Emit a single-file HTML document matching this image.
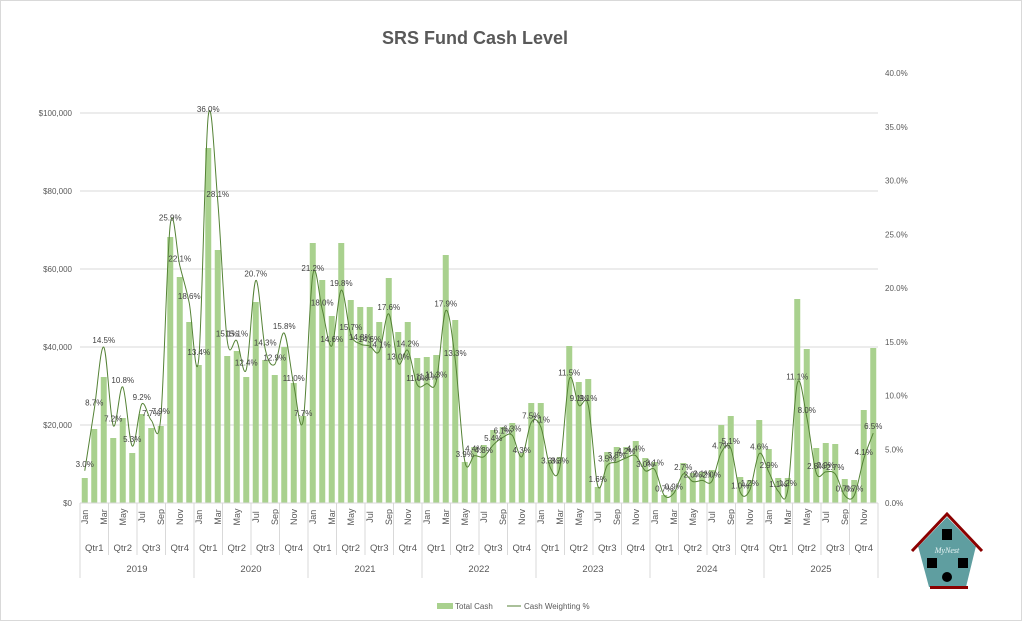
<!DOCTYPE html>
<html><head><meta charset="utf-8"><style>
html,body{margin:0;padding:0;background:#fff;}
svg{display:block;font-family:"Liberation Sans",sans-serif;}
</style></head><body>
<svg id="c" width="1022" height="621" viewBox="0 0 1022 621" xmlns="http://www.w3.org/2000/svg">
<rect x="0.5" y="0.5" width="1021" height="620" fill="#fff" stroke="#d9d9d9"/>
<text x="475" y="44" text-anchor="middle" font-size="18" font-weight="bold" fill="#595959">SRS Fund Cash Level</text>
<g id="grid" stroke="#d9d9d9" stroke-width="1"></g>
<g id="bars" fill="#a9d18e"></g>
<path id="line" fill="none" stroke="#548235" stroke-width="1"/>
<g id="labels" font-size="8" fill="#404040" text-anchor="middle"></g>
<g id="axis" font-size="8" fill="#595959"></g>
<g id="xaxis" fill="#595959"></g>
<g font-size="8" fill="#595959">
<rect x="437" y="603" width="16" height="6" fill="#a9d18e"/>
<text x="455" y="609">Total Cash</text>
<line x1="507" y1="606" x2="521" y2="606" stroke="#548235"/>
<text x="524" y="609">Cash Weighting %</text>
</g>
<g>
<polygon points="918,546 976,546 966,587 929,587" fill="#5f9ea0"/>
<polyline points="912,551 947,514 982,551" fill="none" stroke="#8b0000" stroke-width="3"/>
<polygon points="947,517 918,547 976,547" fill="#5f9ea0"/>
<rect x="930" y="586" width="38" height="3" fill="#8b0000"/>
<rect x="942" y="529" width="10" height="11" fill="#000"/>
<rect x="927" y="558" width="10" height="10" fill="#000"/>
<rect x="958" y="558" width="10" height="10" fill="#000"/>
<circle cx="947" cy="577" r="5" fill="#000"/>
<text x="947" y="553" font-size="8" font-style="italic" fill="#e8f4f4" text-anchor="middle" font-family="Liberation Serif,serif">MyNest</text>
</g>
</svg>
<script>
var tops=[478,429,377,438,418,453,414,428,426,237,277,322,
365,148,250,356,351,377,302,360,375,347,383,416,
243,280,316,243,300,307,307,322,278,332,322,358,
357,355,255,320,462,447,445,430,427,423,453,403,
403,460,457,346,382,379,487,452,447,447,441,458,
462,495,490,463,473,472,470,425,416,477,480,420,
449,478,478,299,349,448,443,444,479,480,410,348];
var p=[3.0,8.7,14.5,7.2,10.8,5.3,9.2,7.7,7.9,25.9,22.1,18.6,
13.4,36.0,28.1,15.1,15.1,12.4,20.7,14.3,12.9,15.8,11.0,7.7,
21.2,18.0,14.6,19.8,15.7,14.8,14.6,14.1,17.6,13.0,14.2,11.0,
11.1,11.3,17.9,13.3,3.9,4.4,4.3,5.4,6.1,6.3,4.3,7.5,
7.1,3.3,3.3,11.5,9.1,9.1,1.6,3.5,3.8,4.2,4.4,3.0,
3.1,0.7,0.9,2.7,2.0,2.1,2.0,4.7,5.1,1.0,1.2,4.6,
2.9,1.1,1.2,11.1,8.0,2.8,2.9,2.7,0.7,0.7,4.1,6.5];
var L=["3.0%","8.7%","14.5%","7.2%","10.8%","5.3%","9.2%","7.7%","7.9%","25.9%","22.1%","18.6%",
"13.4%","36.0%","28.1%","15.1%","15.1%","12.4%","20.7%","14.3%","12.9%","15.8%","11.0%","7.7%",
"21.2%","18.0%","14.6%","19.8%","15.7%","14.8%","14.6%","14.1%","17.6%","13.0%","14.2%","11.0%",
"11.1%","11.3%","17.9%","13.3%","3.9%","4.4%","4.3%","5.4%","6.1%","6.3%","4.3%","7.5%",
"7.1%","3.3%","3.3%","11.5%","9.1%","9.1%","1.6%","3.5%","3.8%","4.2%","4.4%","3.0%",
"3.1%","0.7%","0.9%","2.7%","2.0%","2.1%","2.0%","4.7%","5.1%","1.0%","1.2%","4.6%",
"2.9%","1.1%","1.2%","11.1%","8.0%","2.8%","2.9%","2.7%","0.7%","0.7%","4.1%","6.5%"];
var NS="http://www.w3.org/2000/svg";
function el(t,a,par,txt){var e=document.createElementNS(NS,t);for(var k in a)e.setAttribute(k,a[k]);if(txt!=null)e.textContent=txt;document.getElementById(par).appendChild(e);return e;}
var x0=80,w=9.5,y0=503;
var money=["$0","$20,000","$40,000","$60,000","$80,000","$100,000"];
for(var i=0;i<=5;i++){var y=y0-78*i;if(i>0)el("line",{x1:x0,x2:878,y1:y,y2:y},"grid");
el("text",{x:72,y:y+3,"text-anchor":"end"},"axis",money[i]);}
for(var i=0;i<=8;i++){var y=y0-53.75*i;el("text",{x:885,y:y+3},"axis",(5*i).toFixed(1)+"%");}
var pts=[];
for(var i=0;i<84;i++){var cx=x0+w*(i+0.5);
el("rect",{x:cx-3,y:tops[i],width:6,height:y0-tops[i]},"bars");
pts.push([cx,y0-p[i]*10.75]);}
var d="M"+pts[0][0]+","+pts[0][1];
for(var i=0;i<83;i++){var a=pts[Math.max(i-1,0)],b=pts[i],c=pts[i+1],e=pts[Math.min(i+2,83)];
var t=0.5/3;
d+=" C"+(b[0]+(c[0]-a[0])*t)+","+(b[1]+(c[1]-a[1])*t)+" "+(c[0]-(e[0]-b[0])*t)+","+(c[1]-(e[1]-b[1])*t)+" "+c[0]+","+c[1];}
document.getElementById("line").setAttribute("d",d);
for(var i=0;i<84;i++){el("text",{x:pts[i][0],y:pts[i][1]-4},"labels",L[i]);}
el("line",{x1:x0,x2:878,y1:y0,y2:y0,stroke:"#d9d9d9"},"xaxis");
var mn=["Jan","Feb","Mar","Apr","May","Jun","Jul","Aug","Sep","Oct","Nov","Dec"];
var yrs=["2019","2020","2021","2022","2023","2024","2025"];
for(var i=0;i<84;i+=2){var cx=x0+w*(i+0.5)+3;
el("text",{x:0,y:0,"font-size":"9","text-anchor":"middle",transform:"translate("+cx+",517) rotate(-90)"},"xaxis",mn[i%12]);}
for(var q=0;q<=28;q++){var x=x0+q*w*3;
el("line",{x1:x,x2:x,y1:y0,y2:(q%4==0)?578:555,stroke:"#d9d9d9"},"xaxis");
if(q<28)el("text",{x:x+w*1.5,y:551,"font-size":"9.5","text-anchor":"middle"},"xaxis","Qtr"+(q%4+1));}
for(var yy=0;yy<7;yy++){el("text",{x:x0+114*yy+57,y:572,"font-size":"9.5","text-anchor":"middle"},"xaxis",yrs[yy]);}
</script>
</body></html>
